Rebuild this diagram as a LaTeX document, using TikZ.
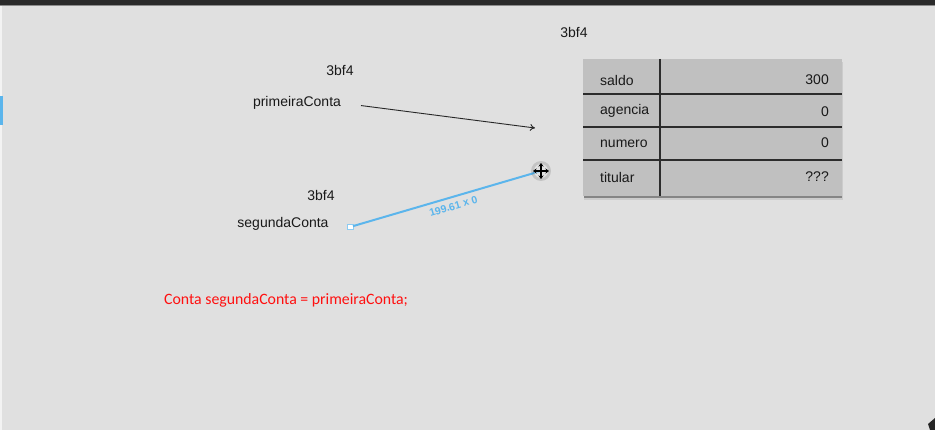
\documentclass[tikz,border=0pt]{standalone}
\usepackage{fontspec}
\setmainfont{Liberation Sans}
\newfontfamily\codefont{Carlito}
\usetikzlibrary{arrows.meta}
\definecolor{fundo}{HTML}{E0E0E0}
\definecolor{barra}{HTML}{2A2A2A}
\definecolor{celula}{HTML}{C0C0C0}
\definecolor{linha}{HTML}{2C2C2C}
\definecolor{azul}{HTML}{5BB5EC}
\definecolor{vermelho}{HTML}{FF1010}
\begin{document}
\begin{tikzpicture}[x=1pt,y=-1pt]
	\tikzstyle{txt}=[font=\fontsize{14}{16}\selectfont,text=black!90,inner sep=0]
	\tikzstyle{cell}=[font=\fontsize{14}{16}\selectfont,text=black!90,inner sep=0]
	\tikzstyle{edge}=[-{To[length=5pt,width=7pt]},black!85,line width=0.9pt]
	\tikzstyle{sep}=[linha,line width=1.1pt]
	
	% fundo e moldura da tela
	\fill[fundo] (0,0) rectangle (935,430);
	\fill[barra] (0,0) rectangle (935,5);
	\fill[black!45] (0,5) rectangle (935,6);
	\fill[white!60!fundo] (0,6) rectangle (2,430);
	\fill[azul] (0,96) rectangle (2.5,125);
	\fill[black!85] (928,424) -- (935,418) -- (935,430) -- (930,430) -- cycle;
	
	% objeto
	\node [txt] (end0) at (574,32) {3bf4};
	\fill[black!20] (584,62) rectangle (843,200);
	\fill[black!48] (584,62) rectangle (842,198.5);
	\fill[celula] (583,59) rectangle (842,196);
	\draw[sep] (583,94) -- (842,94);
	\draw[sep] (583,127) -- (842,127);
	\draw[sep] (583,160) -- (842,160);
	\draw[sep] (660,59) -- (660,196);
	
	\node [cell,anchor=west] (saldo) at (600,80) {saldo};
	\node [cell,anchor=west] (agencia) at (600,111) {agencia};
	\node [cell,anchor=west] (numero) at (600,144) {numero};
	\node [cell,anchor=west] (titular) at (600,177) {titular};
	\node [cell,anchor=east] (vsaldo) at (829,80) {300};
	\node [cell,anchor=east] (vagencia) at (829,112) {0};
	\node [cell,anchor=east] (vnumero) at (829,143) {0};
	\node [cell,anchor=east] (vtitular) at (829,177) {???};
	
	% referencias
	\node [txt] (end1) at (340,70) {3bf4};
	\node [txt] (pc) at (297,103) {primeiraConta};
	\node [txt] (end2) at (321,195) {3bf4};
	\node [txt] (sc) at (283,224) {segundaConta};
	\coordinate (alvo) at (535,128);
	
	\draw[edge,shorten <=20pt] (pc.east)--(alvo);
	
	% linha sendo arrastada
	\node [draw=azul!70,fill=white,line width=0.5pt,minimum size=5.5pt,inner sep=0] (ponta) at (350,227) {};
	\coordinate (cursor) at (541,171);
	\draw[azul,line width=2pt] (ponta)--node[sloped,below=4.5pt,text=azul,font=\fontsize{10.5}{12}\bfseries\selectfont,inner sep=0,pos=0.52]{199.61 x 0}(cursor);
	\fill[black,opacity=0.12] (cursor) circle (10pt);
	\fill[white,opacity=0.5] (cursor) circle (7pt);
	\draw[black,line width=1.3pt,{Stealth[length=3.5pt,width=5pt]}-{Stealth[length=3.5pt,width=5pt]}] ([xshift=-8pt]cursor)--([xshift=8pt]cursor);
	\draw[black,line width=1.3pt,{Stealth[length=3.5pt,width=5pt]}-{Stealth[length=3.5pt,width=5pt]}] ([yshift=-8pt]cursor)--([yshift=8pt]cursor);
	
	% codigo
	\node [font=\codefont\fontsize{15.8}{18}\selectfont,text=vermelho,anchor=west,inner sep=0] (codigo) at (164,300) {Conta segundaConta = primeiraConta;};
\end{tikzpicture}
\end{document}
